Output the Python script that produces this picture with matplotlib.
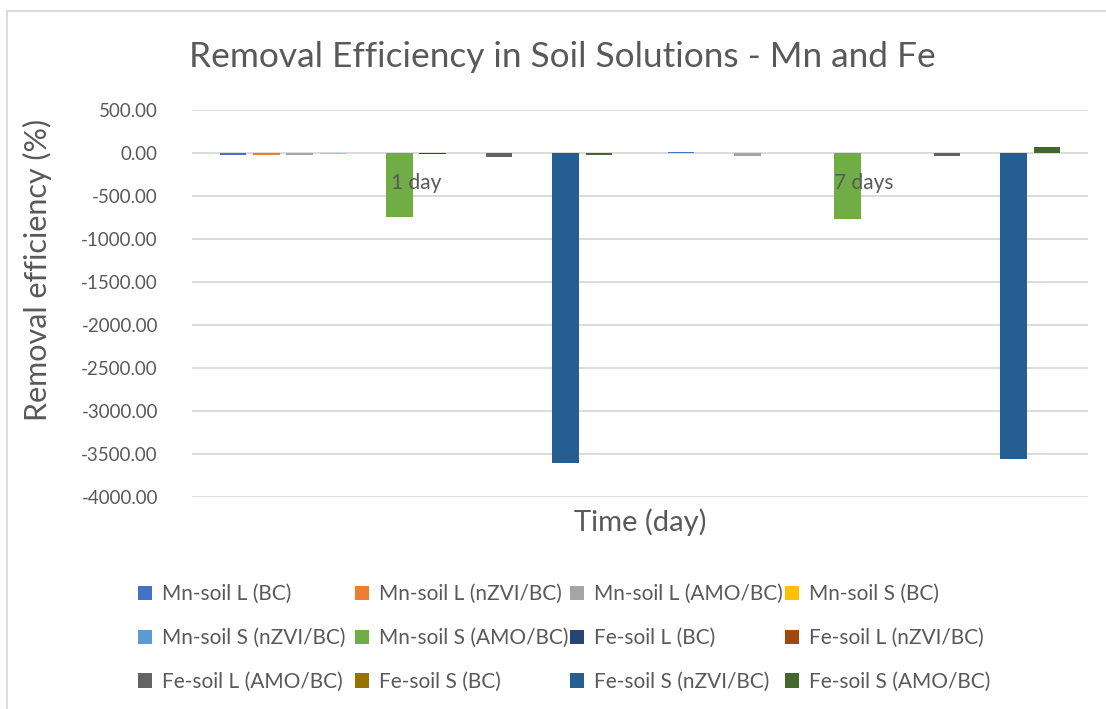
import matplotlib
matplotlib.use("Agg")
import matplotlib.pyplot as plt
import numpy as np
from matplotlib.patches import Rectangle

categories = ["1 day", "7 days"]
series_names = [
    "Mn-soil L (BC)", "Mn-soil L (nZVI/BC)", "Mn-soil L (AMO/BC)", "Mn-soil S (BC)",
    "Mn-soil S (nZVI/BC)", "Mn-soil S (AMO/BC)", "Fe-soil L (BC)", "Fe-soil L (nZVI/BC)",
    "Fe-soil L (AMO/BC)", "Fe-soil S (BC)", "Fe-soil S (nZVI/BC)", "Fe-soil S (AMO/BC)",
]
day1_values = [-25, -20, -20, -15, -5, -745, -15, -5, -50, 0, -3610, -25]
day7_values = [15, -5, -30, -5, 5, -770, -5, 0, -40, 0, -3560, 75]
colors = ["#4472C4", "#ED7D31", "#A5A5A5", "#FFC000", "#5B9BD5", "#70AD47",
          "#264478", "#9E480E", "#636363", "#997300", "#255E91", "#43682B"]
yticks = [500, 0, -500, -1000, -1500, -2000, -2500, -3000, -3500, -4000]

FONT = ["Lato", "DejaVu Sans"]
plt.rcParams["font.family"] = FONT
TXT = "#595959"

W, H = 1106, 709
fig = plt.figure(figsize=(W / 100, H / 100), dpi=100)
ax = fig.add_axes([192 / W, 1 - 497 / H, (1088 - 192) / W, (497 - 110) / H])

x = np.arange(len(categories))
n = len(series_names)
step = 0.0742
width = 0.0594
handles = []
for i in range(n):
    vals = [day1_values[i], day7_values[i]]
    b = ax.bar(x + (i - (n - 1) / 2) * step, vals, width, color=colors[i],
               label=series_names[i], zorder=3)
    handles.append(b)

ax.set_xlim(-0.5, 1.5)
ax.set_ylim(-4000, 500)
ax.set_yticks(yticks)
ax.set_yticklabels([f"{v:.2f}" for v in yticks], color=TXT, fontsize=13.5)
ax.tick_params(axis="y", length=0, pad=24.5)
ax.set_xticks([])
for s in ax.spines.values():
    s.set_visible(False)
ax.grid(axis="y", color="#D9D9D9", linewidth=1.3, zorder=0)

for xi, c in zip(x, categories):
    ax.annotate(c, (xi, 0), xytext=(0, -21.6), textcoords="offset points",
                ha="center", va="center", fontsize=15, color=TXT, zorder=4)

fig.text(562 / W, 1 - 57 / H, "Removal Efficiency in Soil Solutions - Mn and Fe",
         ha="center", va="center", fontsize=25.4, color=TXT)
fig.text(37 / W, 1 - 270 / H, "Removal efficiency (%)", rotation=90,
         ha="center", va="center", fontsize=22, color=TXT)
fig.text(640 / W, 1 - 522 / H, "Time (day)", ha="center", va="center",
         fontsize=21, color=TXT)

col_x = [138, 355, 570, 785]
for c in range(4):
    idx = [c, c + 4, c + 8]
    leg = fig.legend([handles[k] for k in idx], [series_names[k] for k in idx],
                     ncol=1, loc="upper left", bbox_to_anchor=(col_x[c] / W, 1 - 584 / H),
                     frameon=False, fontsize=15, labelcolor=TXT,
                     borderpad=0, borderaxespad=0,
                     handlelength=0.68, handleheight=0.68, handletextpad=0.45,
                     labelspacing=1.15)

fig.patches.append(Rectangle((7 / W, -0.1), 1.2, 1 - 11 / H + 0.1,
                             transform=fig.transFigure, fill=False,
                             edgecolor="#D9D9D9", linewidth=1.3))

fig.savefig("out.png", dpi=100)
